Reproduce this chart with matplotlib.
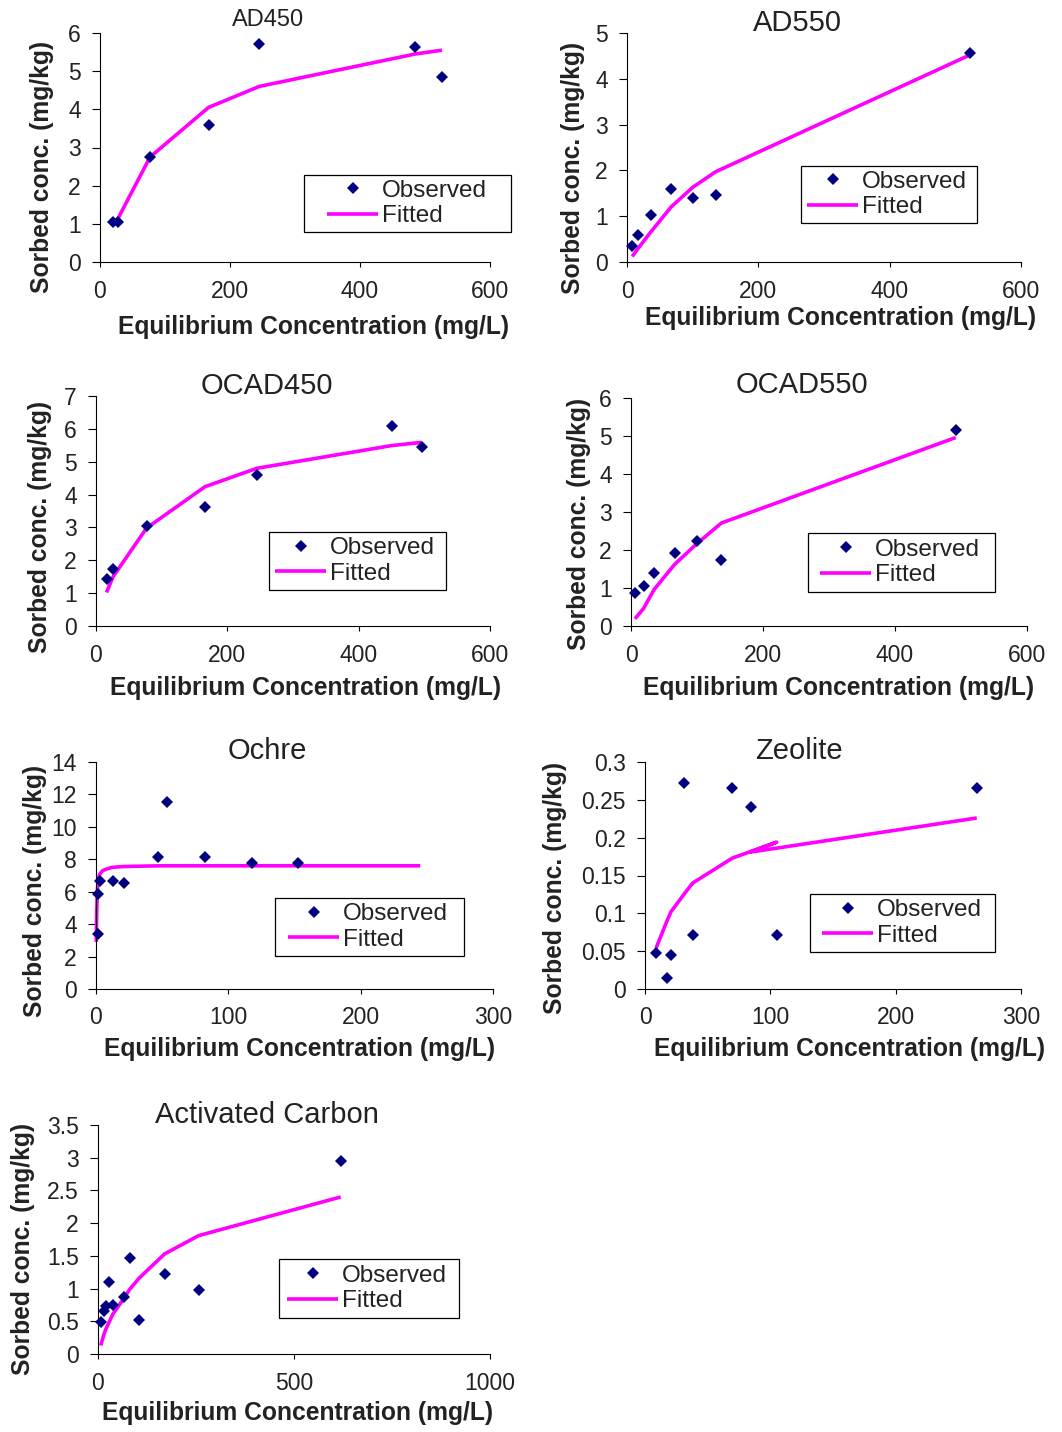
import matplotlib
matplotlib.use("Agg")
import matplotlib.pyplot as plt
from matplotlib.patches import Rectangle
from matplotlib.ticker import FuncFormatter, MultipleLocator

plt.rcParams['font.family'] = ['Liberation Sans', 'DejaVu Sans']

W, H = 1062, 1432

# --- isotherm data: equilibrium conc (mg/L), observed and fitted sorbed conc (mg/kg)
ad450_x = [20, 28, 77, 167, 245, 485, 526]
ad450_obs = [1.05, 1.05, 2.75, 3.6, 5.7, 5.64, 4.85]
ad450_fit = [1.0, 1.15, 2.75, 4.05, 4.6, 5.45, 5.55]

ad550_x = [8, 16, 36.5, 67, 100, 135, 522]
ad550_obs = [0.35, 0.6, 1.02, 1.59, 1.39, 1.47, 4.57]
ad550_fit = [0.12, 0.28, 0.66, 1.2, 1.63, 1.97, 4.52]

ocad450_x = [16, 26, 77, 166, 245, 450, 496]
ocad450_obs = [1.44, 1.73, 3.05, 3.63, 4.6, 6.1, 5.45]
ocad450_fit = [1.02, 1.5, 2.98, 4.24, 4.8, 5.49, 5.59]

ocad550_x = [6, 19, 35, 66, 100, 137, 492]
ocad550_obs = [0.88, 1.04, 1.4, 1.93, 2.24, 1.73, 5.17]
ocad550_fit = [0.19, 0.46, 0.96, 1.62, 2.17, 2.71, 4.96]

ochre_x = [1.5, 1.8, 3, 12.6, 21.4, 47, 54, 82.5, 118, 153]
ochre_obs = [3.4, 5.87, 6.63, 6.63, 6.53, 8.15, 11.55, 8.15, 7.8, 7.8]
ochre_fit_x = [0.2, 0.5, 1, 1.5, 2, 3, 5, 8, 12, 20, 30, 50, 80, 120, 150, 245]
ochre_fit = [2.9, 4.6, 6.0, 6.6, 6.9, 7.1, 7.3, 7.4, 7.5, 7.55, 7.57, 7.6, 7.6, 7.6, 7.6, 7.6]

zeolite_x = [8.8, 17.3, 20.7, 31, 38, 69.7, 105, 84.3, 264.7]
zeolite_obs = [0.047, 0.015, 0.045, 0.272, 0.072, 0.265, 0.072, 0.24, 0.265]
zeolite_fit = [0.054, 0.089, 0.102, 0.125, 0.14, 0.173, 0.194, 0.181, 0.226]

carbon_x = [7, 15, 20, 27, 38, 66, 81, 105, 170, 257, 619]
carbon_obs = [0.49, 0.66, 0.74, 1.1, 0.75, 0.87, 1.47, 0.52, 1.22, 0.98, 2.95]
carbon_fit = [0.13, 0.3, 0.38, 0.47, 0.61, 0.85, 0.99, 1.16, 1.53, 1.81, 2.4]

titles = ["AD450", "AD550", "OCAD450", "OCAD550", "Ochre", "Zeolite", "Activated Carbon"]

panels = [
    dict(x=ad450_x, obs=ad450_obs, fx=ad450_x, fit=ad450_fit, xmax=600, xstep=200, ymax=6, ystep=1),
    dict(x=ad550_x, obs=ad550_obs, fx=ad550_x, fit=ad550_fit, xmax=600, xstep=200, ymax=5, ystep=1),
    dict(x=ocad450_x, obs=ocad450_obs, fx=ocad450_x, fit=ocad450_fit, xmax=600, xstep=200, ymax=7, ystep=1),
    dict(x=ocad550_x, obs=ocad550_obs, fx=ocad550_x, fit=ocad550_fit, xmax=600, xstep=200, ymax=6, ystep=1),
    dict(x=ochre_x, obs=ochre_obs, fx=ochre_fit_x, fit=ochre_fit, xmax=300, xstep=100, ymax=14, ystep=2),
    dict(x=zeolite_x, obs=zeolite_obs, fx=zeolite_x, fit=zeolite_fit, xmax=300, xstep=100, ymax=0.3, ystep=0.05),
    dict(x=carbon_x, obs=carbon_obs, fx=carbon_x, fit=carbon_fit, xmax=1000, xstep=500, ymax=3.5, ystep=0.5),
]

# layout in pixels: axes box (l, t, r, b), title centre + size, xlabel centre, ylabel centre,
# legend box (l, t, r, b) and the x where the legend handles start
layout = [
    ((100, 33, 490, 262), (268, 20, 17), (314, 327), (42, 167), (304, 175, 511, 232), 327),
    ((627, 33, 1021, 262), (797, 23, 21), (841, 318), (573, 168), (801, 166, 977, 223), 807),
    ((96, 396, 490, 626), (267, 386, 21), (306, 688), (40, 527), (269, 532, 446, 590), 275),
    ((631, 398, 1027, 626), (802, 385, 21), (839, 688), (579, 524), (808, 533, 995, 592), 820),
    ((96, 762, 493, 989), (267, 751, 21), (300, 1049), (35, 891), (275, 898, 464, 956), 288),
    ((645, 762, 1021, 989), (799, 751, 21), (850, 1049), (555, 888), (810, 894, 995, 952), 822),
    ((98, 1125, 490, 1354), (267, 1115, 21), (298, 1413), (23, 1249), (279, 1259, 459, 1318), 287),
]

fig = plt.figure(figsize=(W / 100, H / 100), dpi=100)


def fx(px):
    return px / W


def fy(py):
    return 1 - py / H


fmt = FuncFormatter(lambda v, p: "{:g}".format(round(v, 4)))

for p, (box, ttl, xl, yl, lg, hx), title in zip(panels, layout, titles):
    l, t, r, b = box
    ax = fig.add_axes([fx(l), fy(b), (r - l) / W, (b - t) / H])
    fit_line, = ax.plot(p["fx"], p["fit"], color="#FF00FF", lw=2.6, clip_on=False,
                        solid_capstyle="butt", label="Fitted", zorder=2)
    obs_pts, = ax.plot(p["x"], p["obs"], ls="none", marker="D", ms=6, mew=0,
                       color="#000080", clip_on=False, label="Observed", zorder=3)
    ax.set_xlim(0, p["xmax"])
    ax.set_ylim(0, p["ymax"])
    ax.xaxis.set_major_locator(MultipleLocator(p["xstep"]))
    ax.yaxis.set_major_locator(MultipleLocator(p["ystep"]))
    ax.xaxis.set_major_formatter(fmt)
    ax.yaxis.set_major_formatter(fmt)
    for s in ["top", "right"]:
        ax.spines[s].set_visible(False)
    for s in ["left", "bottom"]:
        ax.spines[s].set_linewidth(0.8)
    ax.tick_params(axis="x", direction="out", length=3.6, width=0.8, pad=9, labelsize=16.5,
                   labelcolor="#222222")
    ax.tick_params(axis="y", direction="out", length=5.8, width=0.8, pad=8, labelsize=16.5,
                   labelcolor="#222222")

    ax.set_xlabel("Equilibrium Concentration (mg/L)", fontsize=17.7, fontweight="bold",
                  color="#222222")
    ax.set_ylabel("Sorbed conc. (mg/kg)", fontsize=17.7, fontweight="bold", color="#222222")
    ax.xaxis.set_label_coords(fx(xl[0]), fy(xl[1]), transform=fig.transFigure)
    ax.yaxis.set_label_coords(fx(yl[0]), fy(yl[1]), transform=fig.transFigure)
    ax.xaxis.label.set_va("center")
    ax.yaxis.label.set_va("center")

    fig.text(fx(ttl[0]), fy(ttl[1]), title, fontsize=ttl[2], ha="center", va="center",
             color="#222222")

    # legend: plain black box with handles inside
    x0, y0, x1, y1 = lg
    ax.add_artist(Rectangle((fx(x0), fy(y1)), (x1 - x0) / W, (y1 - y0) / H,
                            transform=fig.transFigure, facecolor="white",
                            edgecolor="black", lw=0.9, clip_on=False, zorder=4))
    ax.legend(handles=[obs_pts, fit_line], loc="center left", frameon=False,
              bbox_to_anchor=(fx(hx), fy((y0 + y1) / 2)),
              bbox_transform=fig.transFigure, fontsize=17.5, borderpad=0,
              borderaxespad=0, handlelength=2.1, handletextpad=0.15,
              labelspacing=0.15, numpoints=1, labelcolor="#222222")

fig.savefig("out.png", dpi=100)
